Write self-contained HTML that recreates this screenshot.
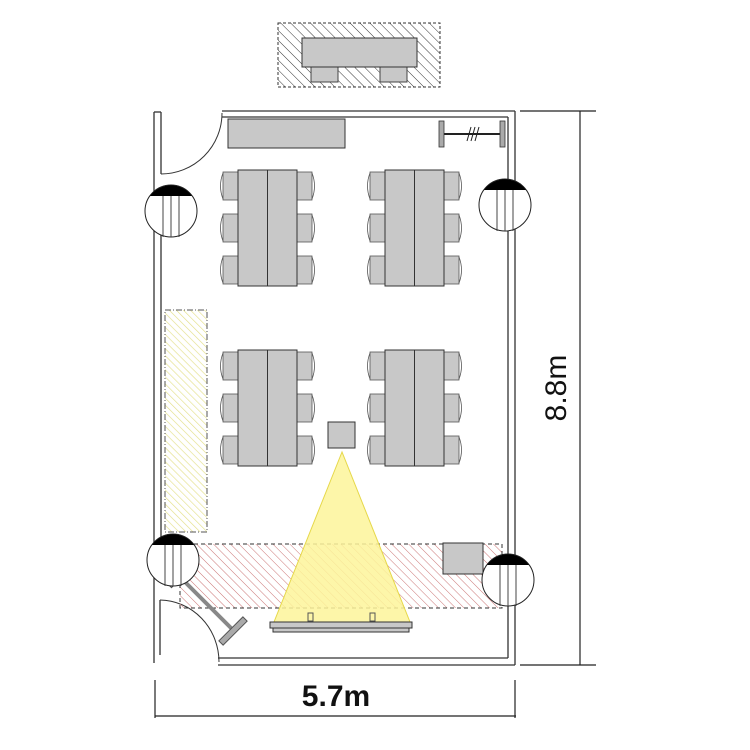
<!DOCTYPE html>
<html><head><meta charset="utf-8"><style>
html,body{margin:0;padding:0;background:#fff;}
svg{display:block;}
</style></head><body>
<svg width="750" height="750" viewBox="0 0 750 750" xmlns="http://www.w3.org/2000/svg">
<defs>
<pattern id="hb" width="7" height="7" patternUnits="userSpaceOnUse" patternTransform="rotate(-45)"><line x1="0" y1="0" x2="0" y2="7" stroke="#333" stroke-width="1"/></pattern>
<pattern id="hr" width="6" height="6" patternUnits="userSpaceOnUse" patternTransform="rotate(-45)"><line x1="0" y1="0" x2="0" y2="6" stroke="#c77" stroke-width="1"/></pattern>
<pattern id="hy" width="5" height="5" patternUnits="userSpaceOnUse" patternTransform="rotate(-45)"><line x1="0" y1="0" x2="0" y2="5" stroke="#e4e08a" stroke-width="1.3"/></pattern>
<g id="chairL"><rect x="0" y="0" width="15" height="28" fill="#c8c8c8" stroke="#555" stroke-width="0.8"/><path d="M0,1 q-5,13 0,26" fill="none" stroke="#555" stroke-width="0.8"/></g>
<g id="chairR"><rect x="0" y="0" width="15" height="28" fill="#c8c8c8" stroke="#555" stroke-width="0.8"/><path d="M15,1 q5,13 0,26" fill="none" stroke="#555" stroke-width="0.8"/></g>
<g id="grp">
<use href="#chairL" x="0" y="2"/><use href="#chairL" x="0" y="44"/><use href="#chairL" x="0" y="86"/>
<use href="#chairR" x="74" y="2"/><use href="#chairR" x="74" y="44"/><use href="#chairR" x="74" y="86"/>
<rect x="15" y="0" width="59" height="116" fill="#c8c8c8" stroke="#333" stroke-width="1"/>
<line x1="44.5" y1="0" x2="44.5" y2="116" stroke="#333" stroke-width="1"/>
</g>
<g id="col"><circle cx="0" cy="0" r="26" fill="#fff" stroke="#222" stroke-width="1"/><path d="M-21,-15 A26,26 0 0 1 21,-15 Z" fill="#000"/><line x1="-8" y1="-15" x2="-8" y2="26" stroke="#444"/><line x1="0" y1="-15" x2="0" y2="26" stroke="#444"/><line x1="8" y1="-15" x2="8" y2="26" stroke="#444"/></g>
</defs>

<rect x="278" y="23" width="162" height="64" fill="url(#hb)" stroke="#333" stroke-dasharray="3,2"/>
<rect x="311" y="66" width="27" height="16" fill="#c8c8c8" stroke="#444"/>
<rect x="380" y="66" width="27" height="16" fill="#c8c8c8" stroke="#444"/>
<rect x="302" y="38" width="115" height="29" fill="#c8c8c8" stroke="#333"/>

<g fill="none" stroke="#333" stroke-width="1.3">
<line x1="222" y1="111" x2="515" y2="111"/>
<line x1="222" y1="117" x2="508" y2="117"/>
<line x1="515" y1="111" x2="515" y2="665"/>
<line x1="508" y1="117" x2="508" y2="658"/>
<line x1="218" y1="665" x2="515" y2="665"/>
<line x1="218" y1="658" x2="508" y2="658"/>
<line x1="154" y1="112" x2="154" y2="663"/>
<line x1="161" y1="112" x2="161" y2="174"/>
<line x1="161" y1="235" x2="161" y2="545"/>
<line x1="160" y1="600" x2="160" y2="655"/>
<line x1="154" y1="112" x2="161" y2="112"/>
</g>
<path d="M222,113 A61,61 0 0 1 161,174" fill="none" stroke="#333" stroke-width="1"/>
<path d="M160,600 A60,62 0 0 1 219,662" fill="none" stroke="#333" stroke-width="1"/>

<rect x="228" y="119" width="117" height="29" fill="#c8c8c8" stroke="#333"/>
<line x1="442" y1="134" x2="505" y2="134" stroke="#222" stroke-width="2"/>
<rect x="439" y="121" width="5" height="26" fill="#aaa" stroke="#333" stroke-width="0.8"/>
<rect x="500" y="121" width="5" height="26" fill="#aaa" stroke="#333" stroke-width="0.8"/>
<g stroke="#222" stroke-width="1"><line x1="467" y1="141" x2="471" y2="127"/><line x1="471" y1="141" x2="475" y2="127"/><line x1="475" y1="141" x2="479" y2="127"/></g>

<use href="#grp" x="223" y="170"/>
<use href="#grp" x="370" y="170"/>
<use href="#grp" x="223" y="350"/>
<use href="#grp" x="370" y="350"/>

<rect x="165" y="310" width="42" height="222" fill="url(#hy)" stroke="#555" stroke-dasharray="6,2,1,2"/>

<rect x="180" y="544" width="322" height="64" fill="url(#hr)" stroke="#333" stroke-dasharray="4,3"/>

<rect x="328" y="422" width="27" height="26" fill="#c8c8c8" stroke="#333"/>
<polygon points="342,452 274,622 410,622" fill="#fdf59a" fill-opacity="0.85" stroke="#e6d84a"/>
<rect x="270" y="622" width="142" height="6" fill="#c8c8c8" stroke="#333"/>
<rect x="273" y="628" width="136" height="4" fill="#c8c8c8" stroke="#333"/>
<rect x="308" y="613" width="5" height="8" fill="none" stroke="#555"/>
<rect x="370" y="613" width="5" height="8" fill="none" stroke="#555"/>

<rect x="443" y="543" width="40" height="31" fill="#c8c8c8" stroke="#333"/>

<line x1="181" y1="578" x2="235" y2="632" stroke="#888" stroke-width="4"/>
<rect x="165" y="572" width="30" height="6" fill="#aaa" stroke="#555" transform="rotate(-45 180 575)"/>
<rect x="216" y="628" width="34" height="6" fill="#aaa" stroke="#555" transform="rotate(-45 233 631)"/>

<use href="#col" x="171" y="211"/>
<use href="#col" x="505" y="205"/>
<use href="#col" x="173" y="560"/>
<use href="#col" x="508" y="580"/>

<g stroke="#222" stroke-width="1.2">
<line x1="580" y1="111" x2="580" y2="665"/>
<line x1="520" y1="111" x2="596" y2="111"/>
<line x1="520" y1="665" x2="596" y2="665"/>
<line x1="155" y1="716" x2="516" y2="716"/>
<line x1="155" y1="680" x2="155" y2="718"/>
<line x1="515" y1="680" x2="515" y2="718"/>
</g>
<text x="336" y="706" text-anchor="middle" font-family="Liberation Sans, sans-serif" font-size="30" font-weight="bold" fill="#111">5.7m</text>
<text x="0" y="0" transform="translate(566,388) rotate(-90)" text-anchor="middle" font-family="Liberation Sans, sans-serif" font-size="30" fill="#111">8.8m</text>
</svg>
</body></html>
